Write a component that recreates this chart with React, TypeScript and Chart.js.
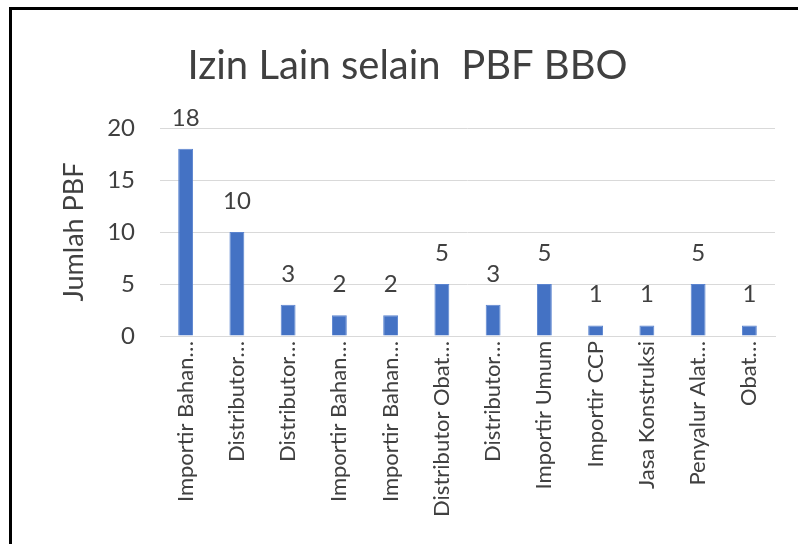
import React, { useEffect, useRef } from "react";
import { Chart, registerables } from "chart.js";

Chart.register(...registerables);

const chartTitle = "Izin Lain selain  PBF BBO";
const yAxisTitle = "Jumlah PBF";
const categories = [
  "Importir Bahan…",
  "Distributor…",
  "Distributor…",
  "Importir Bahan…",
  "Importir Bahan…",
  "Distributor Obat…",
  "Distributor…",
  "Importir Umum",
  "Importir CCP",
  "Jasa Konstruksi",
  "Penyalur Alat…",
  "Obat…",
];
const values = [18, 10, 3, 2, 2, 5, 3, 5, 1, 1, 5, 1];
const yMin = 0;
const yMax = 20;
const yStep = 5;

const FONT = "Lato, 'Open Sans', sans-serif";
const TEXT = "#404040";

const dataLabelPlugin = {
  id: "dataLabels",
  afterDatasetsDraw(chart: any) {
    const ctx = chart.ctx;
    const meta = chart.getDatasetMeta(0);
    ctx.save();
    ctx.fillStyle = TEXT;
    ctx.font = `24px ${FONT}`;
    ctx.textAlign = "center";
    ctx.textBaseline = "bottom";
    meta.data.forEach((bar: any, i: number) => {
      ctx.fillText(String(values[i]), bar.x, bar.y - 19);
    });
    ctx.restore();
  },
};

export default function App() {
  const ref = useRef<HTMLCanvasElement | null>(null);
  useEffect(() => {
    if (!ref.current) return;
    const chart = new Chart(ref.current, {
      type: "bar",
      data: {
        labels: categories,
        datasets: [
          {
            data: values,
            backgroundColor: "#4472C4",
            borderColor: "#5b84cf",
            borderWidth: 1,
            barPercentage: 0.29,
            categoryPercentage: 1,
          },
        ],
      },
      options: {
        animation: false,
        responsive: false,
        maintainAspectRatio: false,
        layout: { padding: { left: 40, right: 23, top: 0, bottom: 0 } },
        plugins: {
          legend: { display: false },
          tooltip: { enabled: false },
          title: {
            display: true,
            text: chartTitle,
            color: TEXT,
            font: { family: FONT, size: 40, weight: "normal" },
            padding: { top: 42, bottom: 38 },
          },
        },
        scales: {
          x: {
            grid: { display: false, drawTicks: false },
            border: { display: true, color: "#D9D9D9", width: 1 },
            ticks: {
              color: TEXT,
              font: { family: FONT, size: 22 },
              minRotation: 90,
              maxRotation: 90,
              autoSkip: false,
              padding: 5,
            },
            afterFit(scale: any) {
              scale.height = 208;
            },
          },
          y: {
            min: yMin,
            max: yMax,
            border: { display: false },
            grid: { color: "#D9D9D9", drawTicks: false, lineWidth: 1 },
            ticks: {
              stepSize: yStep,
              color: TEXT,
              font: { family: FONT, size: 24 },
              padding: 25,
            },
            title: {
              display: true,
              text: yAxisTitle,
              color: TEXT,
              font: { family: FONT, size: 27 },
              padding: { top: 18, bottom: 0 },
            },
            afterFit(scale: any) {
              scale.width = 120;
            },
          },
        },
      },
      plugins: [dataLabelPlugin],
    });
    return () => chart.destroy();
  }, []);

  return (
    <div style={{ position: "fixed", left: 0, top: 0, width: 798, height: 544, background: "#fff", overflow: "hidden" }}>
      <div
        style={{
          position: "absolute",
          left: 9,
          top: 7,
          width: 820,
          height: 600,
          borderLeft: "3px solid #000",
          borderTop: "3px solid #000",
        }}
      />
      <canvas ref={ref} width={798} height={544} style={{ position: "absolute", left: 0, top: 0 }} />
    </div>
  );
}
